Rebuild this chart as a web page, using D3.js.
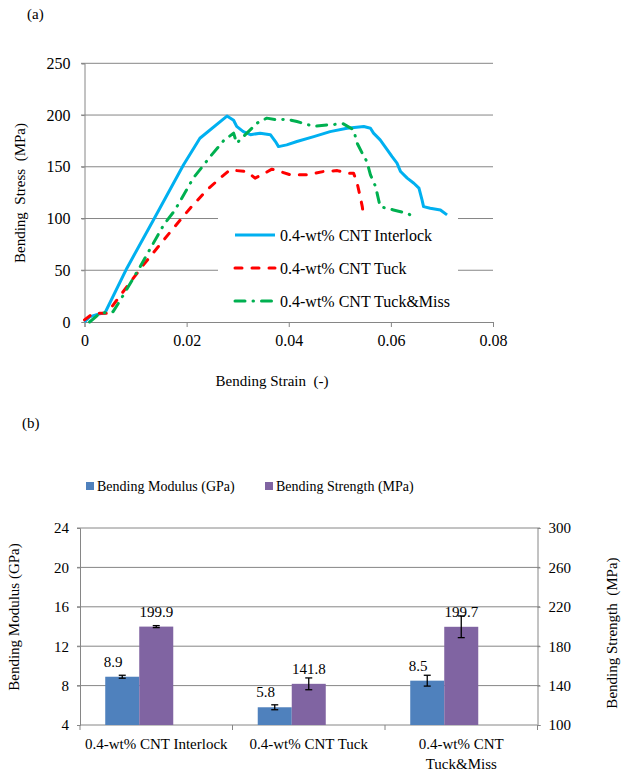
<!DOCTYPE html>
<html>
<head>
<meta charset="utf-8">
<script src="https://cdn.jsdelivr.net/npm/d3@7"></script>
<style>
  body { margin: 0; background: #fff; }
  svg { font-family: "Liberation Serif", "Times New Roman", serif; fill: #000; }
  text { white-space: pre; font-family: "Liberation Serif", "Times New Roman", serif; }
</style>
</head>
<body>
<svg id="chart" width="635" height="774"></svg>
<script>
// ---- (a) stress-strain curves, [strain, stress MPa]
var interlock = [[0,0],[0.001,5],[0.003,8],[0.004,8.7],[0.0083,52],[0.0135,98.6],[0.0194,152],
  [0.0226,177.6],[0.0279,199],[0.0292,195],[0.0298,189],[0.0311,184],[0.0325,181],[0.0344,182.5],
  [0.0364,181],[0.0374,174.4],[0.038,169.5],[0.0396,171.2],[0.0416,174.4],[0.0449,179.2],[0.0481,184],
  [0.0514,187.3],[0.0547,188.9],[0.056,187.3],[0.0566,182.5],[0.0579,176],[0.0593,166.3],[0.0602,160],
  [0.0612,153.5],[0.0619,145.4],[0.0632,139],[0.0645,134.1],[0.0655,129.3],[0.0661,118],[0.0664,111.5],
  [0.0677,110],[0.0697,108.3],[0.071,103.5]];
var tuck = [[0,2],[0.0017,8.4],[0.0044,8.4],[0.0056,16.4],[0.0115,55],[0.0174,90.6],[0.0207,110],
  [0.024,127.7],[0.0269,140.5],[0.0285,147],[0.0298,146.3],[0.0318,145.4],[0.0334,139],[0.0347,142.2],
  [0.0367,147.7],[0.0383,145.4],[0.0403,142.2],[0.0436,142.2],[0.0468,145.4],[0.0495,146.3],
  [0.0514,143.8],[0.0527,143.8],[0.0534,134],[0.054,121],[0.0544,111.5],[0.0547,100.3]];
var tuckMiss = [[0.001,0],[0.003,8.4],[0.0056,10],[0.007,21],[0.0109,53.5],[0.0155,93.8],[0.0177,108],
  [0.0213,139],[0.0232,150.9],[0.0249,161.5],[0.0272,175],[0.0292,182.5],[0.0298,172.8],[0.0338,192.2],
  [0.0357,197],[0.0377,195.4],[0.0396,196],[0.0416,193.7],[0.0449,189],[0.0475,190.5],[0.0507,191.5],
  [0.0527,185.7],[0.0534,172.8],[0.0544,163],[0.0553,155],[0.056,142.2],[0.057,130.9],[0.0579,111.5],
  [0.0605,108.3],[0.0632,105],[0.0645,101.8]];
var seriesNames = ["0.4-wt% CNT Interlock", "0.4-wt% CNT Tuck", "0.4-wt% CNT Tuck&Miss"];
var strainTicks = [0, 0.02, 0.04, 0.06, 0.08];
var stressTicks = [0, 50, 100, 150, 200, 250];

// ---- (b) bar chart
var categories = ["0.4-wt% CNT Interlock", "0.4-wt% CNT Tuck", "0.4-wt% CNT Tuck&Miss"];
var categoryLines = [["0.4-wt% CNT Interlock"], ["0.4-wt% CNT Tuck"], ["0.4-wt% CNT", "Tuck&Miss"]];
var modulus = [8.9, 5.8, 8.5];
var modulusErr = [0.15, 0.25, 0.55];
var strength = [199.9, 141.8, 199.7];
var strengthErr = [1, 6, 11];
var modulusTicks = [4, 8, 12, 16, 20, 24];
var strengthTicks = [100, 140, 180, 220, 260, 300];

var svg = d3.select("#chart");
var grid = "#868686";
var serif = '"Liberation Serif", "Times New Roman", serif';
var colors = {interlock: "#00B0F0", tuck: "#FF0000", miss: "#00B050", mod: "#4F81BD", str: "#8064A2"};

function styleAxis(g, size) {
  g.attr("font-family", serif).attr("font-size", size);
  g.select(".domain").attr("stroke", grid);
  g.selectAll(".tick line").attr("stroke", grid);
  g.selectAll("text").style("font-size", size + "px").style("font-family", serif);
}

// ================= (a) =================
var x = d3.scaleLinear().domain([0, 0.08]).range([84.5, 493]);
var y = d3.scaleLinear().domain([0, 250]).range([322, 63.3]);

svg.append("text").attr("x", 27).attr("y", 19).style("font-size", "15px").text("(a)");

var gA = svg.append("g");
gA.selectAll("line.grid").data(stressTicks.slice(1)).enter().append("line")
  .attr("x1", 81).attr("x2", x(0.08))
  .attr("y1", d => y(d)).attr("y2", d => y(d))
  .attr("stroke", grid).attr("stroke-width", 1);

var xAxisA = d3.axisBottom(x).tickValues(strainTicks).tickFormat(d => d === 0 ? "0" : d.toFixed(2)).tickSize(5).tickPadding(8);
gA.append("g").attr("transform", "translate(0," + y(0) + ")").call(xAxisA).call(styleAxis, 16);

var yAxisA = d3.axisLeft(y).tickValues(stressTicks).tickSize(3).tickPadding(11);
gA.append("g").attr("transform", "translate(" + x(0) + ",0)").call(yAxisA).call(styleAxis, 16);

var line = d3.line().x(d => x(d[0])).y(d => y(d[1]));
var curveStyles = [
  {data: interlock, color: colors.interlock, dash: null},
  {data: tuck, color: colors.tuck, dash: "7,10"},
  {data: tuckMiss, color: colors.miss, dash: "10,8,0.5,8"}
];

// legend box (white, covers the grid under it)
gA.append("rect").attr("x", 218).attr("y", 217).attr("width", 240).attr("height", 98).attr("fill", "#fff");

gA.selectAll("path.curve").data(curveStyles).enter().append("path")
  .attr("d", d => line(d.data))
  .attr("fill", "none")
  .attr("stroke", d => d.color)
  .attr("stroke-width", 3)
  .attr("stroke-linecap", d => d.dash ? "round" : "butt")
  .attr("stroke-linejoin", "round")
  .attr("stroke-dasharray", d => d.dash);

var legA = gA.selectAll("g.leg").data(curveStyles).enter().append("g")
  .attr("transform", (d, i) => "translate(235," + (235 + i * 33) + ")");
legA.append("line").attr("x1", 0).attr("x2", 40)
  .attr("stroke", d => d.color).attr("stroke-width", 3)
  .attr("stroke-linecap", d => d.dash ? "round" : "butt")
  .attr("stroke-dasharray", d => d.dash);
legA.append("text").attr("x", 45).attr("dy", "0.35em").style("font-size", "16px")
  .text((d, i) => seriesNames[i]);

svg.append("text").attr("transform", "translate(25,193) rotate(-90)")
  .attr("text-anchor", "middle").style("font-size", "15px").text("Bending  Stress  (MPa)");
svg.append("text").attr("x", 272).attr("y", 386)
  .attr("text-anchor", "middle").style("font-size", "15px").text("Bending Strain  (-)");

// ================= (b) =================
svg.append("text").attr("x", 22).attr("y", 428).style("font-size", "15px").text("(b)");

var band = d3.scaleBand().domain(categories).range([80, 537.5]).padding(0);
var yL = d3.scaleLinear().domain([4, 24]).range([725, 528]);
var yR = d3.scaleLinear().domain([100, 300]).range([725, 528]);
var barW = band.bandwidth() * 0.223;

var gB = svg.append("g");
gB.selectAll("line.grid").data(modulusTicks.slice(1)).enter().append("line")
  .attr("x1", 77).attr("x2", 540)
  .attr("y1", d => yL(d)).attr("y2", d => yL(d))
  .attr("stroke", grid);

var yAxisL = d3.axisLeft(yL).tickValues(modulusTicks).tickSize(3).tickPadding(8);
gB.append("g").attr("transform", "translate(80,0)").call(yAxisL).call(styleAxis, 15);

var yAxisR = d3.axisRight(yR).tickValues(strengthTicks).tickSize(3).tickPadding(8);
gB.append("g").attr("transform", "translate(537.5,0)").call(yAxisR).call(styleAxis, 15);

// bottom axis with ticks at category boundaries
gB.append("line").attr("x1", 80).attr("x2", 537.5).attr("y1", 725).attr("y2", 725).attr("stroke", grid);
var bounds = categories.map(c => band(c)).concat([band.range()[1]]);
gB.selectAll("line.ctick").data(bounds).enter().append("line")
  .attr("x1", d => d).attr("x2", d => d).attr("y1", 725).attr("y2", 730).attr("stroke", grid);

var bars = categories.map((c, i) => ({
  c: c, i: i, cx: band(c) + band.bandwidth() / 2,
  mod: modulus[i], modErr: modulusErr[i], str: strength[i], strErr: strengthErr[i]
}));

// modulus bars (left axis)
gB.selectAll("rect.mod").data(bars).enter().append("rect")
  .attr("x", d => d.cx - 1.5 * barW).attr("width", barW)
  .attr("y", d => yL(d.mod)).attr("height", d => yL(4) - yL(d.mod))
  .attr("fill", colors.mod);
// strength bars (right axis)
gB.selectAll("rect.str").data(bars).enter().append("rect")
  .attr("x", d => d.cx - 0.5 * barW).attr("width", barW)
  .attr("y", d => yR(d.str)).attr("height", d => yR(100) - yR(d.str))
  .attr("fill", colors.str);

function errorBar(sel, cxf, lo, hi) {
  var g = sel.append("g").attr("stroke", "#000").attr("stroke-width", 1.3);
  g.append("line").attr("x1", cxf).attr("x2", cxf).attr("y1", lo).attr("y2", hi);
  g.append("line").attr("x1", d => cxf(d) - 3.5).attr("x2", d => cxf(d) + 3.5).attr("y1", lo).attr("y2", lo);
  g.append("line").attr("x1", d => cxf(d) - 3.5).attr("x2", d => cxf(d) + 3.5).attr("y1", hi).attr("y2", hi);
}
var eb = gB.selectAll("g.eb").data(bars).enter().append("g");
errorBar(eb, d => d.cx - barW, d => yL(d.mod - d.modErr), d => yL(d.mod + d.modErr));
errorBar(eb, d => d.cx, d => yR(d.str - d.strErr), d => yR(d.str + d.strErr));

// value labels
gB.selectAll("text.modlab").data(bars).enter().append("text")
  .attr("x", d => d.cx - barW - 9).attr("y", d => yL(d.mod) - 10)
  .attr("text-anchor", "middle").style("font-size", "15px")
  .text(d => d.mod.toFixed(1));
gB.selectAll("text.strlab").data(bars).enter().append("text")
  .attr("x", d => d.cx).attr("y", d => yR(d.str) - 10)
  .attr("text-anchor", "middle").style("font-size", "15px")
  .text(d => d.str.toFixed(1));

// category labels
var catText = gB.selectAll("text.cat").data(bars).enter().append("text")
  .attr("text-anchor", "middle").style("font-size", "15px")
  .attr("x", d => d.cx).attr("y", 749);
catText.selectAll("tspan").data(d => categoryLines[d.i].map(t => ({t: t, cx: d.cx}))).enter()
  .append("tspan").attr("x", d => d.cx).attr("dy", (d, j) => j === 0 ? 0 : "1.3em").text(d => d.t);

// legend (b)
var legB = [{name: "Bending Modulus (GPa)", color: colors.mod, x: 86}, {name: "Bending Strength (MPa)", color: colors.str, x: 265}];
var lg = svg.selectAll("g.legb").data(legB).enter().append("g")
  .attr("transform", d => "translate(" + d.x + ",486)");
lg.append("rect").attr("x", 0).attr("y", -4).attr("width", 8).attr("height", 8).attr("fill", d => d.color);
lg.append("text").attr("x", 11).attr("dy", "0.35em").style("font-size", "14px").text(d => d.name);

svg.append("text").attr("transform", "translate(19,617) rotate(-90)")
  .attr("text-anchor", "middle").style("font-size", "15px").text("Bending Modulus (GPa)");
svg.append("text").attr("transform", "translate(617,633) rotate(-90)")
  .attr("text-anchor", "middle").style("font-size", "15px").text("Bending Strength  (MPa)");
</script>
</body>
</html>
